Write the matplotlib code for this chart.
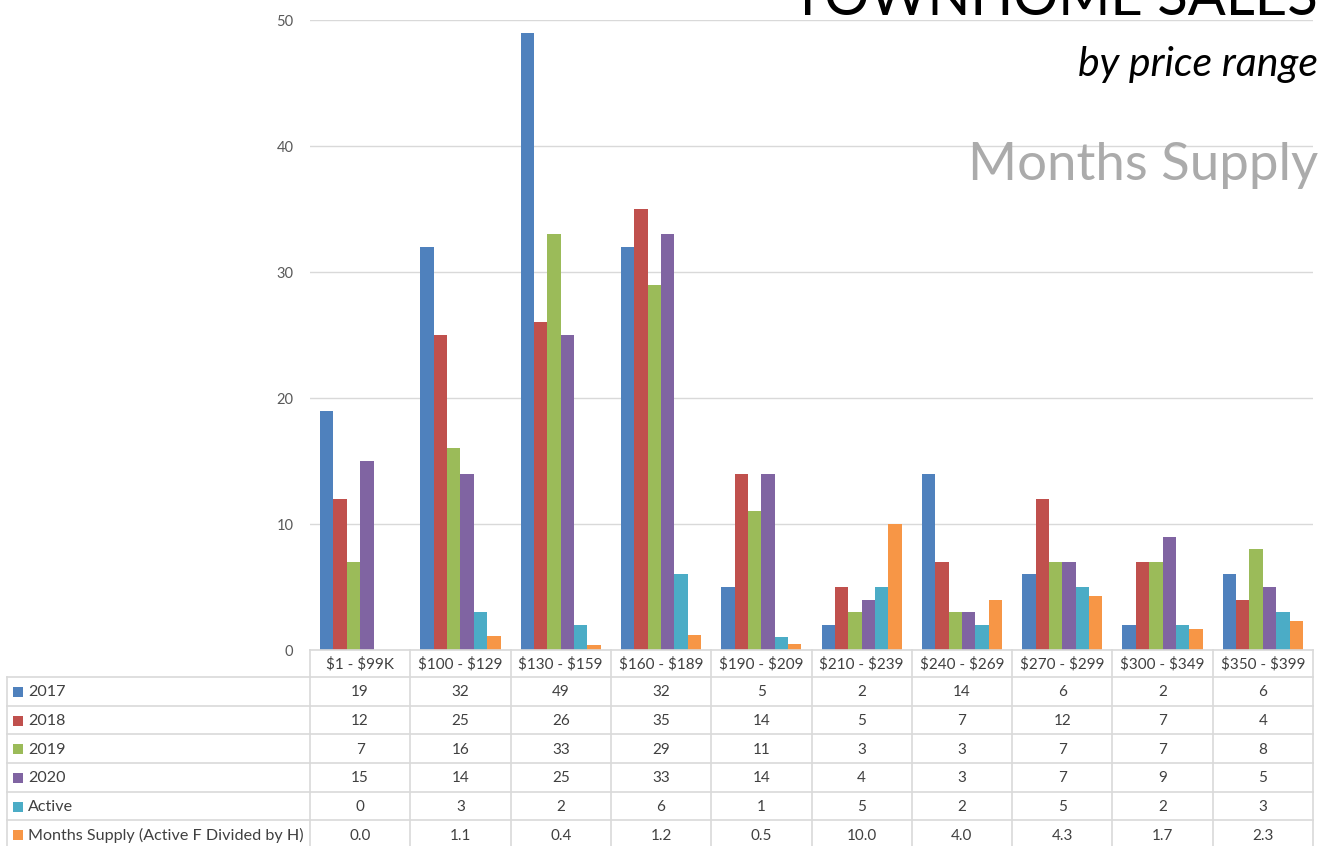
import matplotlib
matplotlib.use("Agg")
import matplotlib.pyplot as plt
from matplotlib.transforms import blended_transform_factory
from matplotlib.patches import Rectangle

# ---- data ----
categories = ["$1 - $99K", "$100 - $129", "$130 - $159", "$160 - $189", "$190 - $209",
              "$210 - $239", "$240 - $269", "$270 - $299", "$300 - $349", "$350 - $399"]
series_names = ["2017", "2018", "2019", "2020", "Active", "Months Supply (Active F Divided by H)"]
s2017 = [19, 32, 49, 32, 5, 2, 14, 6, 2, 6]
s2018 = [12, 25, 26, 35, 14, 5, 7, 12, 7, 4]
s2019 = [7, 16, 33, 29, 11, 3, 3, 7, 7, 8]
s2020 = [15, 14, 25, 33, 14, 4, 3, 7, 9, 5]
active = [0, 3, 2, 6, 1, 5, 2, 5, 2, 3]
months_supply = [0.0, 1.1, 0.4, 1.2, 0.5, 10.0, 4.0, 4.3, 1.7, 2.3]
yticks = [0, 10, 20, 30, 40, 50]

series = [s2017, s2018, s2019, s2020, active, months_supply]
fmts = ["{:d}", "{:d}", "{:d}", "{:d}", "{:d}", "{:.1f}"]
colors = ["#4F81BD", "#C0504D", "#9BBB59", "#8064A2", "#4BACC6", "#F79646"]

W, H = 1320, 846
fig = plt.figure(figsize=(W / 100, H / 100), dpi=100)
fig.patch.set_facecolor("white")

FONT = ["Lato", "DejaVu Sans"]
TXT = "#404040"
GRID = "#D9D9D9"

# main axes: plot area x 310..1313, y 20..650
ax = fig.add_axes([310 / W, (H - 650) / H, (1313 - 310) / W, (650 - 20) / H])
n = len(categories)
bw = 0.8 / len(series)
for k, (vals, c) in enumerate(zip(series, colors)):
    xs = [i - 0.4 + bw * (k + 0.5) for i in range(n)]
    ax.bar(xs, vals, width=bw, color=c, edgecolor="none", zorder=3)
ax.set_xlim(-0.5, n - 0.5)
ax.set_ylim(0, 50)
ax.set_yticks(yticks)
ax.set_yticklabels([str(t) for t in yticks], fontfamily=FONT, fontsize=10.5, color="#595959")
ax.set_xticks([])
ax.tick_params(axis="y", length=0, pad=12)
for sp in ax.spines.values():
    sp.set_visible(False)
ax.yaxis.grid(True, color=GRID, linewidth=1.0, zorder=0)
ax.set_axisbelow(True)

# overlay axes in pixel coordinates for the data table and titles
ov = fig.add_axes([0, 0, 1, 1], zorder=5)
ov.set_xlim(0, W)
ov.set_ylim(H, 0)
ov.axis("off")
ov.patch.set_alpha(0)
tr = blended_transform_factory(ax.transData, ov.transData)

head_top, head_bot = 650, 677
row_h = 28.7
rows_y = [head_bot + row_h * r for r in range(len(series) + 1)]
left_x = 7

# horizontal lines
ov.plot([-0.5, n - 0.5], [head_top, head_top], color=GRID, lw=1.2, transform=tr, clip_on=False)
for y in rows_y:
    ov.plot([left_x, 310], [y, y], color=GRID, lw=1.2, clip_on=False)
    ov.plot([-0.5, n - 0.5], [y, y], color=GRID, lw=1.2, transform=tr, clip_on=False)
# vertical lines
for i in range(n + 1):
    ov.plot([i - 0.5, i - 0.5], [head_top, H + 5], color=GRID, lw=1.2, transform=tr, clip_on=False)
ov.plot([left_x, left_x], [head_bot, H + 5], color=GRID, lw=1.2, clip_on=False)

# header labels
for i, cat in enumerate(categories):
    ov.text(i, (head_top + head_bot) / 2 + 1, cat, transform=tr, ha="center", va="center",
            fontfamily=FONT, fontsize=11, color=TXT, parse_math=False)

# rows
for r, (name, vals, c, f) in enumerate(zip(series_names, series, colors, fmts)):
    yc = rows_y[r] + row_h / 2 + 1
    ov.add_patch(Rectangle((13, yc - 5.5), 10, 10, facecolor=c, edgecolor="none"))
    ov.text(28, yc, name, ha="left", va="center", fontfamily=FONT, fontsize=11.6, color=TXT,
            parse_math=False)
    for i, v in enumerate(vals):
        ov.text(i, yc, f.format(v), transform=tr, ha="center", va="center",
                fontfamily=FONT, fontsize=11, color=TXT)

# titles
ov.text(1318, 15, "TOWNHOME SALES", ha="right", va="baseline", fontfamily=FONT,
        fontweight="normal", fontsize=40.5, color="black")
ov.text(1318, 76, "by price range", ha="right", va="baseline", fontfamily=FONT,
        fontstyle="italic", fontsize=29.5, color="black")
ov.text(1318, 180, "Months Supply", ha="right", va="baseline", fontfamily=FONT,
        fontweight="normal", fontsize=38, color="#ABABAB")

fig.savefig("out.png", dpi=100, facecolor="white")
